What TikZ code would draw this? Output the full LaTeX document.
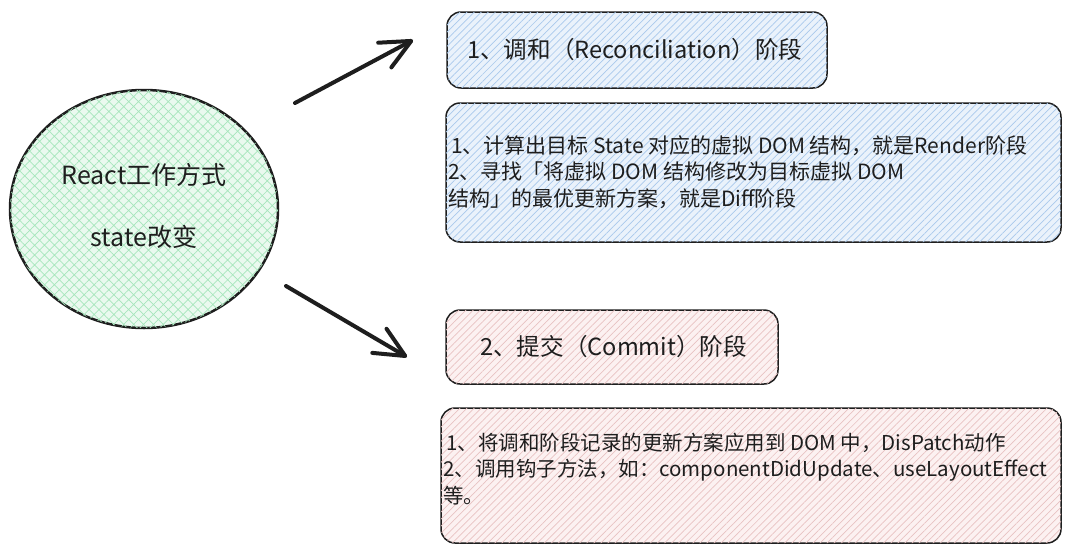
\documentclass[tikz,border=0pt]{standalone}
\usepackage{fontspec}
\setmainfont{Noto Sans CJK SC}
\usetikzlibrary{arrows.meta,patterns.meta,shapes.geometric}
\definecolor{ink}{HTML}{1E1E1E}
\definecolor{bluefill}{HTML}{EAF2FB}
\definecolor{bluehatch}{HTML}{A9C9EC}
\definecolor{pinkfill}{HTML}{FCF1F1}
\definecolor{pinkhatch}{HTML}{E8C2C2}
\definecolor{greenfill}{HTML}{EAF9EF}
\definecolor{greenhatch}{HTML}{A6E6BC}
\begin{document}
\begin{tikzpicture}[x=1pt,y=-1pt,
  box/.style={draw=ink, line width=1.5pt, rounded corners=14pt, inner sep=0pt},
  bluebox/.style={box, fill=bluefill, postaction={pattern={Lines[angle=45,distance=5pt,line width=0.7pt]}, pattern color=bluehatch}},
  pinkbox/.style={box, fill=pinkfill, postaction={pattern={Lines[angle=45,distance=5pt,line width=0.7pt]}, pattern color=pinkhatch}},
  blob/.style={ellipse, draw=ink, line width=2.5pt, inner sep=0pt, fill=greenfill,
    postaction={pattern={Hatch[angle=45,distance=7pt,line width=0.7pt]}, pattern color=greenhatch}},
  txt/.style={text=ink, inner sep=0pt},
  huge/.style={txt, font=\fontsize{25}{28}\selectfont},
  big/.style={txt, font=\fontsize{23.6}{28}\selectfont},
  small/.style={txt, align=left, font=\fontsize{20.5}{26.5}\selectfont},
  smaller/.style={small, font=\fontsize{21}{26.5}\selectfont},
  arr/.style={draw=ink, line width=4pt, line cap=round,
    -{Straight Barb[length=30pt,width=28pt,round]}}]
\useasboundingbox (0,0) rectangle (1077,557);
\fill[white] (0,0) rectangle (1077,557);

% central ellipse
\node[blob, minimum width=268pt, minimum height=238pt] (core) at (144,209) {};
\node[huge] (t1) at (144,175) {React工作方式};
\node[huge] (t2) at (144,237) {state改变};

% boxes
\node[bluebox, minimum width=380pt, minimum height=76pt] (b1) at (637,50) {};
\node[bluebox, minimum width=615pt, minimum height=139pt] (b2) at (753.5,172.5) {};
\node[pinkbox, minimum width=332pt, minimum height=74pt] (b3) at (612,347) {};
\node[pinkbox, minimum width=620pt, minimum height=135pt] (b4) at (751,475.5) {};

\node[big, anchor=west] (l1) at (467,50) {1、调和（Reconciliation）阶段};
\node[smaller, anchor=west] (l2) at (448,172) {\hspace{3pt}1、计算出目标 State 对应的虚拟 DOM 结构，就是Render阶段\\
2、寻找「将虚拟 DOM 结构修改为目标虚拟 DOM\\
结构」的最优更新方案，就是Diff阶段};
\node[big, anchor=west] (l3) at (480,347) {2、提交（Commit）阶段};
\node[small, anchor=west] (l4) at (443,469) {\hspace{3pt}1、将调和阶段记录的更新方案应用到 DOM 中，DisPatch动作\\
2、调用钩子方法，如：componentDidUpdate、useLayoutEffect\\
等。};

% arrows
\coordinate (a1s) at (295,103);
\coordinate (a1e) at (413,40);
\coordinate (a2s) at (286,286);
\coordinate (a2e) at (407,357);
\draw[arr] (a1s) -- (a1e);
\draw[arr] (a2s) -- (a2e);
\end{tikzpicture}
\end{document}
